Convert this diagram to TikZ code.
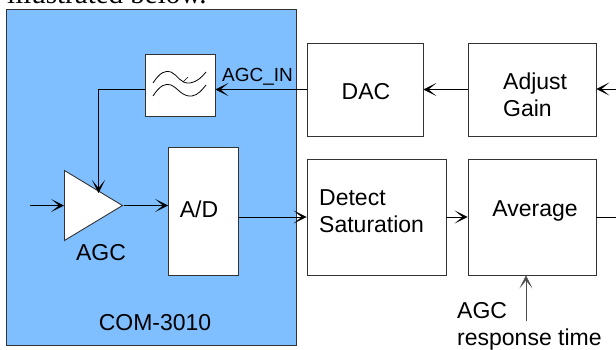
\documentclass[tikz,border=0pt]{standalone}
\usepackage{fontspec}
\setmainfont{Liberation Sans}
\newfontfamily\introfont{Liberation Serif}
\usetikzlibrary{arrows.meta,shapes.geometric}
\definecolor{chipblue}{HTML}{80BFFF}

\begin{document}
\begin{tikzpicture}[x=1pt,y=-1pt]
  \tikzstyle{blk}=[draw=black!80,fill=white,rectangle,line width=0.9pt,inner sep=0pt]
  \tikzstyle{txt}=[align=left,inner sep=0pt,font=\fontsize{23}{27}\selectfont]
  \tikzstyle{arr}=[-{Stealth[length=13pt,width=13pt,inset=8pt]},line width=0.9pt]
  \useasboundingbox (0,0) rectangle (616,349);

  % Text cut off by the page edge
  \node[anchor=base west,inner sep=0pt,font=\introfont\fontsize{29}{32}\selectfont] (intro) at (7,3) {illustrated below.};

  % Chip
  \node[blk,fill=chipblue,minimum width=290pt,minimum height=336pt] (chip) at (151,177) {};
  \node[txt] (chiplabel) at (155,323) {COM-3010};
  \node[blk,minimum width=70pt,minimum height=62pt] (filter) at (180,85) {};
  \node[blk,minimum width=70pt,minimum height=128pt] (ad) at (203.5,211) {};
  \node[txt] (adlabel) at (199,209) {A/D};
  \node[blk,isosceles triangle,isosceles triangle stretches,minimum width=70pt,minimum height=58pt,anchor=lower side] (amp) at (64,205.5) {};
  \node[txt] (amplabel) at (101,253) {AGC};

  % Filter symbol
  \draw[line width=0.8pt] (153,83) .. controls (160,72) and (166,70) .. (171,72) .. controls (178,75) and (180,84) .. (190,83) .. controls (197,82) and (202,77) .. (206,72);
  \draw[line width=0.8pt] (153,96) .. controls (160,85) and (166,83) .. (171,85) .. controls (178,88) and (182,97) .. (192,96) .. controls (198,95) and (202,90) .. (206,85);
  \draw[line width=0.6pt] (183,82) -- (188,77);

  % Row 1
  \node[blk,minimum width=116pt,minimum height=93pt] (dac) at (365,89.5) {};
  \node[txt] (daclabel) at (366,92) {DAC};
  \node[blk,minimum width=128pt,minimum height=93pt] (gain) at (532,89.5) {};
  \node[txt,anchor=west] (gainlabel) at (503,94.5) {Adjust\\Gain};

  % Row 2
  \node[blk,minimum width=139pt,minimum height=116pt] (detect) at (376.5,217) {};
  \node[txt,anchor=west] (detectlabel) at (319,211) {Detect\\Saturation};
  \node[blk,minimum width=128pt,minimum height=116pt] (avg) at (532,217) {};
  \node[txt] (avglabel) at (535,210.5) {Average};
  \node[txt,anchor=north west] (resp) at (457,302) {AGC\\response time};

  % Free ends
  \coordinate (gainin) at (616,89);
  \coordinate (avgout) at (616,217);
  \coordinate (ampin) at (30,205.5);
  \coordinate (ampctl) at (98.5,193);
  \coordinate (respend) at (526,321);

  % Connectors
  \draw[arr] (gainin) -- (gain.east |- gainin);
  \draw[arr] (gain.west) -- (dac.east);
  \draw[arr] (dac.west) -- (filter.east |- dac.west);
  \draw[arr] (filter.west |- dac.west) -| (ampctl);
  \draw[arr] (ampin) -- (amp.lower side);
  \draw[arr] (amp.apex) -- (ad.west |- amp.apex);
  \draw[arr] (ad.east) ++(0,6) -- (detect.west);
  \draw[arr] (detect.east) -- (avg.west);
  \draw[line width=0.9pt] (avg.east) -- (avgout);
  \draw[arr,line width=0.5pt,draw=black!70] (respend) -- (avg.south -| respend);

  \node[txt,font=\fontsize{19}{22}\selectfont,anchor=west] (agcin) at (222,77) {AGC\_IN};
\end{tikzpicture}
\end{document}
